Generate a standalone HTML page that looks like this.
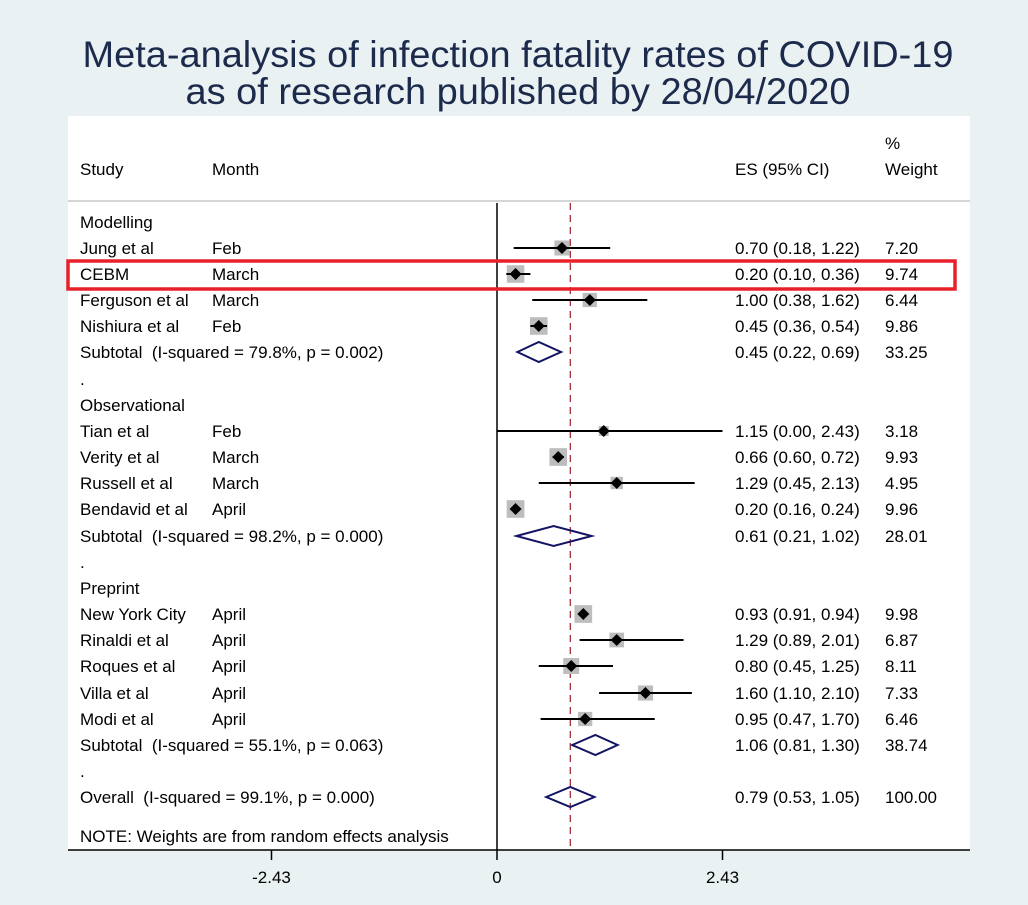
<!DOCTYPE html>
<html><head><meta charset="utf-8">
<style>
html,body{margin:0;padding:0;background:#EAF1F3;}
svg{display:block;font-family:"Liberation Sans",Arial,sans-serif;}
text{white-space:pre;}
</style></head>
<body>
<svg id="chart" width="1028" height="905" xmlns="http://www.w3.org/2000/svg" xml:space="preserve">
<rect x="0" y="0" width="1028" height="905" fill="#EAF1F3"/>
<text x="518" y="67" text-anchor="middle" font-size="37" fill="#1c2a4c" textLength="871" lengthAdjust="spacingAndGlyphs">Meta-analysis of infection fatality rates of COVID-19</text>
<text x="518" y="104" text-anchor="middle" font-size="37" fill="#1c2a4c" textLength="665" lengthAdjust="spacingAndGlyphs">as of research published by 28/04/2020</text>
<rect x="68" y="116" width="902" height="734" fill="#ffffff"/>
<line x1="68" y1="201" x2="970" y2="201" stroke="#c8c8c8" stroke-width="1.5"/>
<g font-size="17" fill="#000">
<text x="80" y="175">Study</text>
<text x="212" y="175">Month</text>
<text x="735" y="175">ES (95% CI)</text>
<text x="885" y="149">%</text>
<text x="885" y="175">Weight</text>
</g>
<g id="rows"></g>
<g id="marks"></g>
</svg>
<script>
const labels=["Modelling","Jung et al","CEBM","Ferguson et al","Nishiura et al","Subtotal  (I-squared = 79.8%, p = 0.002)",".","Observational","Tian et al","Verity et al","Russell et al","Bendavid et al","Subtotal  (I-squared = 98.2%, p = 0.000)",".","Preprint","New York City","Rinaldi et al","Roques et al","Villa et al","Modi et al","Subtotal  (I-squared = 55.1%, p = 0.063)",".","Overall  (I-squared = 99.1%, p = 0.000)"];
const months=["","Feb","March","March","Feb","","","","Feb","March","March","April","","","","April","April","April","April","April","","",""];
const kinds=["h","s","s","s","s","d","b","h","s","s","s","s","d","b","h","s","s","s","s","s","d","b","d"];
const es=[null,0.70,0.20,1.00,0.45,0.45,null,null,1.15,0.66,1.29,0.20,0.61,null,null,0.93,1.29,0.80,1.60,0.95,1.06,null,0.79];
const lo=[null,0.18,0.10,0.38,0.36,0.22,null,null,0.00,0.60,0.45,0.16,0.21,null,null,0.91,0.89,0.45,1.10,0.47,0.81,null,0.53];
const hi=[null,1.22,0.36,1.62,0.54,0.69,null,null,2.43,0.72,2.13,0.24,1.02,null,null,0.94,2.01,1.25,2.10,1.70,1.30,null,1.05];
const weights=[null,7.20,9.74,6.44,9.86,33.25,null,null,3.18,9.93,4.95,9.96,28.01,null,null,9.98,6.87,8.11,7.33,6.46,38.74,null,100.00];
const rowY=[222,248,274,300,326,352,379,405,431,457,483,509,536,562,588,614,640,666,693,719,745,771,797];
const overallES=0.79;
const ticks=[-2.43,0,2.43];
const NS="http://www.w3.org/2000/svg";
const X=v=>497+v*(225.5/2.43);
const svg=document.getElementById('chart');
const rows=document.getElementById('rows'), marks=document.getElementById('marks');
function mk(tag,attrs,parent){const e=document.createElementNS(NS,tag);for(const k in attrs)e.setAttribute(k,attrs[k]);parent.appendChild(e);return e;}
function txt(x,y,s,parent,anchor){const t=mk('text',{x:x,y:y,'font-size':17,fill:'#000','text-anchor':anchor||'start'},parent);t.textContent=s;return t;}
const f2=v=>v.toFixed(2);
let zl=mk('line',{x1:X(0),y1:203,x2:X(0),y2:850,stroke:'#000','stroke-width':1.5},marks);


let rl=mk('line',{x1:X(overallES),y1:203,x2:X(overallES),y2:850,stroke:'#a0303a','stroke-width':1.3,'stroke-dasharray':'7,5'},marks);


for(let i=0;i<labels.length;i++){
  const y=rowY[i];
  const t=txt(80,y+6,labels[i],rows);
  
  
  if(months[i]){const m=txt(212,y+6,months[i],rows);
    
    }
  if(es[i]!==null){
    const e=txt(735,y+6,f2(es[i])+' ('+f2(lo[i])+', '+f2(hi[i])+')',rows);
    
    
    const w=txt(885,y+6,f2(weights[i]),rows);
    
    
  }
  if(kinds[i]==='s'){
    const s=5.6*Math.sqrt(weights[i]);
    const b=mk('rect',{x:X(es[i])-s/2,y:y-s/2,width:s,height:s,fill:'#bdbdbd'},marks);
    
    
    const l=mk('line',{x1:X(lo[i]),y1:y,x2:X(hi[i]),y2:y,stroke:'#000','stroke-width':2},marks);
    
    
    const c=X(es[i]);
    const p=mk('polygon',{points:`${c-6},${y} ${c},${y-6} ${c+6},${y} ${c},${y+6}`,fill:'#000'},marks);
    
    
  } else if(kinds[i]==='d'){
    const p=mk('polygon',{points:`${X(lo[i])},${y} ${X(es[i])},${y-10} ${X(hi[i])},${y} ${X(es[i])},${y+10}`,fill:'none',stroke:'#141464','stroke-width':2},marks);
    
    
  }
}
const note=txt(80,842,'NOTE: Weights are from random effects analysis',rows);


const ax=mk('line',{x1:68,y1:850,x2:970,y2:850,stroke:'#000','stroke-width':1.5},marks);


ticks.forEach(v=>{
  const tk=mk('line',{x1:X(v),y1:850,x2:X(v),y2:860,stroke:'#000','stroke-width':1.5},marks);
  
  
  const tl=txt(X(v),883,v===0?'0':f2(v),marks,'middle');
  
  
});
const hl=mk('rect',{x:68,y:261,width:887,height:28,fill:'none',stroke:'#e8202a','stroke-width':3.5},svg);


</script>
</body></html>
